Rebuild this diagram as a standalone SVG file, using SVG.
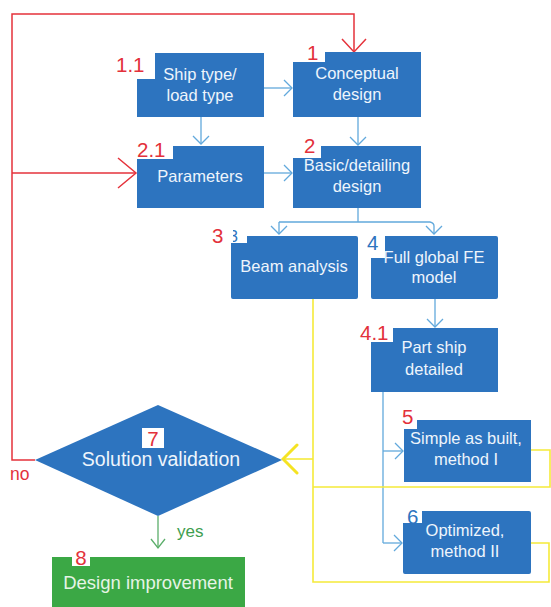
<svg xmlns="http://www.w3.org/2000/svg" width="551" height="607" viewBox="0 0 551 607">
  <style>
    .box { fill: #2D74BF; }
    .green { fill: #3BA845; }
    .txt { font-family: "Liberation Sans", Arial, sans-serif; font-size: 16.5px; fill: #EEF5FC; text-anchor: middle; }
    .num { font-family: "Liberation Sans", Arial, sans-serif; font-size: 20.5px; }
    .red { fill: #E3313B; }
    .blu { fill: #2D74BF; }
    .c-red { fill: none; stroke: #E5323B; stroke-width: 1.5; }
    .c-blue { fill: none; stroke: #62A9DC; stroke-width: 1.3; }
    .c-yel { fill: none; stroke: #F5EA3A; stroke-width: 1.6; }
    .c-grn { fill: none; stroke: #5BAE6A; stroke-width: 1.3; }
  </style>
  <defs>
    <marker id="ar-red" viewBox="-20 -18 22 36" markerWidth="22" markerHeight="36" refX="0" refY="0" orient="auto" markerUnits="userSpaceOnUse">
      <path d="M-13,-12 L0,0 L-13,12" fill="none" stroke="#E5323B" stroke-width="1.5"/>
    </marker>
    <marker id="ar-red-lg" viewBox="-20 -18 22 36" markerWidth="22" markerHeight="36" refX="0" refY="0" orient="auto" markerUnits="userSpaceOnUse">
      <path d="M-18,-15 L0,0 L-18,15" fill="none" stroke="#E5323B" stroke-width="1.5"/>
    </marker>
    <marker id="ar-blue" viewBox="-12 -10 14 20" markerWidth="14" markerHeight="20" refX="0" refY="0" orient="auto" markerUnits="userSpaceOnUse">
      <path d="M-8,-8 L0,0 L-8,8" fill="none" stroke="#62A9DC" stroke-width="1.3"/>
    </marker>
    <marker id="ar-yel" viewBox="-18 -18 20 36" markerWidth="20" markerHeight="36" refX="0" refY="0" orient="auto" markerUnits="userSpaceOnUse">
      <path d="M-14,-14 L0,0 L-14,14" fill="none" stroke="#F5E323" stroke-width="3" stroke-linecap="round"/>
    </marker>
    <marker id="ar-grn" viewBox="-12 -10 14 20" markerWidth="14" markerHeight="20" refX="0" refY="0" orient="auto" markerUnits="userSpaceOnUse">
      <path d="M-9,-7 L0,0 L-9,7" fill="none" stroke="#5BAE6A" stroke-width="1.3"/>
    </marker>
    <clipPath id="clip3"><rect x="233" y="220" width="20" height="30"/></clipPath>
  </defs>

  <!-- connectors -->
  <g id="connectors">
    <!-- "no" loop back to the start -->
    <path class="c-red" d="M35,460 H12 V14 H354 V52" marker-end="url(#ar-red)"/>
    <path class="c-red" d="M12,173 H136" marker-end="url(#ar-red-lg)"/>
    <!-- design flow -->
    <path class="c-blue" d="M264,88 H292" marker-end="url(#ar-blue)"/>
    <path class="c-blue" d="M201,117 V144" marker-end="url(#ar-blue)"/>
    <path class="c-blue" d="M264,173 H292" marker-end="url(#ar-blue)"/>
    <path class="c-blue" d="M358,117 V145" marker-end="url(#ar-blue)"/>
    <path class="c-blue" d="M358,208 V222 M279,222 H430 Q434,223 434,226"/>
    <path class="c-blue" d="M279,222 V234" marker-end="url(#ar-blue)"/>
    <path class="c-blue" d="M434,226 V234" marker-end="url(#ar-blue)"/>
    <path class="c-blue" d="M435,299 V327" marker-end="url(#ar-blue)"/>
    <path class="c-blue" d="M383,392 V543"/>
    <path class="c-blue" d="M383,451 H403" marker-end="url(#ar-blue)"/>
    <path class="c-blue" d="M383,543 H402" marker-end="url(#ar-blue)"/>
    <!-- results gathered into validation -->
    <path class="c-yel" d="M313,299 V582 H549 V543 H531"/>
    <path class="c-yel" d="M313,487 H550 V450 H531"/>
    <path class="c-yel" d="M313,459 H283" marker-end="url(#ar-yel)"/>
    <!-- "yes" branch -->
    <path class="c-grn" d="M158,516 V548" marker-end="url(#ar-grn)"/>
  </g>

  <!-- nodes -->
  <g id="n1-1">
    <path class="box" d="M155,53 H264 V117 H137 V79 H155 Z"/>
    <text class="num red" x="116" y="72">1.1</text>
    <text class="txt" x="200" y="80">Ship type/</text>
    <text class="txt" x="200" y="101">load type</text>
  </g>
  <g id="n1">
    <path class="box" d="M325,52 H421 V117 H293 V62 H325 Z"/>
    <text class="num red" x="307" y="60">1</text>
    <text class="txt" x="357" y="79">Conceptual</text>
    <text class="txt" x="357" y="100">design</text>
  </g>
  <g id="n2-1">
    <path class="box" d="M173,146 H264 V208 H137 V159 H173 Z"/>
    <text class="num red" x="137" y="157">2.1</text>
    <text class="txt" x="200" y="182">Parameters</text>
  </g>
  <g id="n2">
    <path class="box" d="M321,146 H421 V208 H293 V158 H321 Z"/>
    <text class="num red" x="304" y="153">2</text>
    <text class="txt" x="357" y="171">Basic/detailing</text>
    <text class="txt" x="357" y="192">design</text>
  </g>
  <g id="n3">
    <path class="box" d="M247,236 H356 Q358,236 358,238 V297 Q358,299 356,299 H233 Q231,299 231,297 V243 H247 Z"/>
    <text class="num red" x="212" y="243">3</text>
    <text class="num blu" x="229" y="242" style="font-size:16px" clip-path="url(#clip3)">3</text>
    <text class="txt" x="294" y="272">Beam analysis</text>
  </g>
  <g id="n4">
    <path class="box" d="M385,236 H496 Q498,236 498,238 V297 Q498,299 496,299 H373 Q371,299 371,297 V258 H385 Z"/>
    <text class="num blu" x="367" y="250">4</text>
    <text class="txt" x="434" y="263">Full global FE</text>
    <text class="txt" x="434" y="283">model</text>
  </g>
  <g id="n4-1">
    <path class="box" d="M393,328 H498 V392 H371 V342 H393 Z"/>
    <text class="num red" x="360" y="340">4.1</text>
    <text class="txt" x="434" y="353">Part ship</text>
    <text class="txt" x="434" y="375">detailed</text>
  </g>
  <g id="n5">
    <path class="box" d="M417,420 H531 V482 H404 V429 H417 Z"/>
    <text class="num red" x="402" y="424">5</text>
    <text class="txt" x="466" y="444">Simple as built,</text>
    <text class="txt" x="466" y="465">method I</text>
  </g>
  <g id="n6">
    <path class="box" d="M422,511 H529 Q531,511 531,513 V572 Q531,574 529,574 H405 Q403,574 403,572 V523 H422 Z"/>
    <text class="num blu" x="407" y="524">6</text>
    <text class="txt" x="465" y="536">Optimized,</text>
    <text class="txt" x="465" y="557">method II</text>
  </g>
  <g id="n7">
    <path class="box" d="M158,405 L282,460 L158,516 L35,460 Z"/>
    <rect x="142" y="428" width="22" height="20" fill="#ffffff"/>
    <text class="num red" x="153" y="446" text-anchor="middle">7</text>
    <text class="txt" x="161" y="466" style="font-size:19.5px">Solution validation</text>
    <text class="num red" x="10" y="480" style="font-size:17.5px">no</text>
  </g>
  <g id="n8">
    <rect class="green" x="52" y="557" width="193" height="50"/>
    <rect x="72" y="551" width="18" height="15" fill="#ffffff"/>
    <text class="num red" x="81" y="565" text-anchor="middle">8</text>
    <text class="txt" x="148" y="589" style="font-size:18.5px;fill:#E6F4E6">Design improvement</text>
    <text class="num" x="177" y="537" style="font-size:17px;fill:#3E9E50">yes</text>
  </g>
</svg>
